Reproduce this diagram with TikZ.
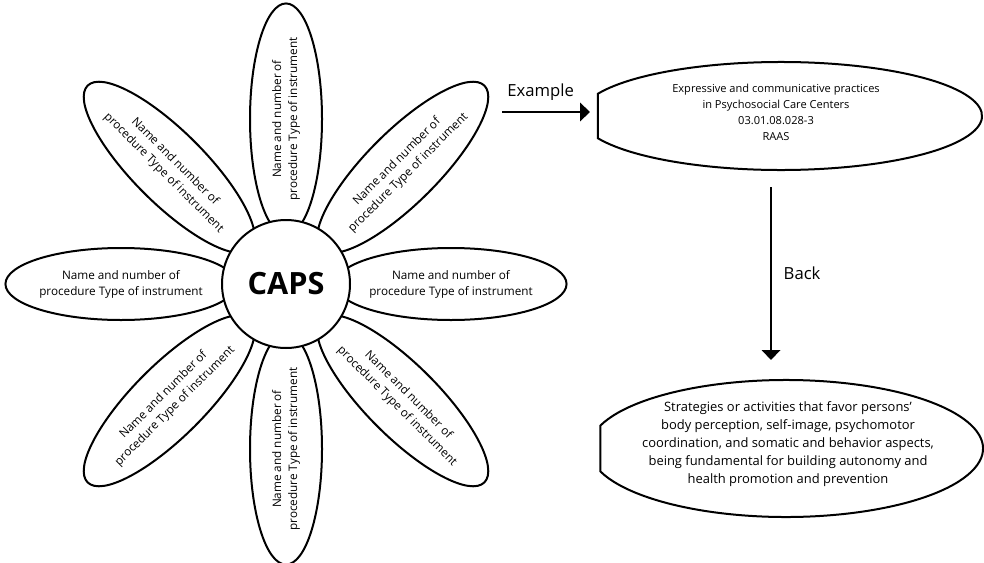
\documentclass[tikz,border=0pt]{standalone}
\usepackage{fontspec}
\setmainfont{Open Sans}
\usetikzlibrary{shapes.geometric,arrows.meta}
\begin{document}
\begin{tikzpicture}[x=0.75pt, y=0.75pt,
    petal/.style={draw, ellipse, line width=1.5pt, minimum width=165pt, minimum height=54pt, inner sep=0pt, align=center, font=\fontsize{8.8}{12}\selectfont},
    hub/.style={draw, circle, fill=white, line width=1.5pt, minimum size=96pt, inner sep=0pt, font=\fontsize{23}{26}\selectfont\bfseries},
    note/.style={align=center, inner sep=0pt, font=\fontsize{8.3}{12}\selectfont},
    bignote/.style={align=center, inner sep=0pt, font=\fontsize{9.7}{13.4}\selectfont},
    tag/.style={inner sep=0pt, font=\fontsize{12.5}{14}\selectfont},
    arrow/.style={-{Triangle[length=7.5pt, width=14pt]}, line width=1.1pt}]
    \useasboundingbox (0,0) rectangle (984,562);
    % flower
    \coordinate (mid) at (286,278);
    \node [petal] (one) at ([shift={(0:165)}]mid) {Name and number of\\procedure Type of instrument};
    \node [petal, rotate=45] (two) at ([shift={(45:165)}]mid) {Name and number of\\procedure Type of instrument};
    \node [petal, rotate=90] (three) at ([shift={(90:165)}]mid) {Name and number of\\procedure Type of instrument};
    \node [petal, rotate=-45] (four) at ([shift={(135:165)}]mid) {Name and number of\\procedure Type of instrument};
    \node [petal] (five) at ([shift={(180:165)}]mid) {Name and number of\\procedure Type of instrument};
    \node [petal, rotate=45] (six) at ([shift={(225:165)}]mid) {Name and number of\\procedure Type of instrument};
    \node [petal, rotate=90] (seven) at ([shift={(270:165)}]mid) {Name and number of\\procedure Type of instrument};
    \node [petal, rotate=-45] (eight) at ([shift={(315:165)}]mid) {Name and number of\\procedure Type of instrument};
    \node [hub] (caps) at (mid) {CAPS};
    % cut ellipses
    \coordinate (pc) at (781,446);
    \coordinate (sc) at (786,113.5);
    \draw [line width=1.5pt] ([shift={(155.6:201 and 54)}]pc) arc [start angle=155.6, end angle=-155.6, x radius=201, y radius=54] -- cycle;
    \draw [line width=1.5pt] ([shift={(160.4:197 and 68.5)}]sc) arc [start angle=160.4, end angle=-160.4, x radius=197, y radius=68.5] -- cycle;
    \node [note] (practice) at (776,450) {Expressive and communicative practices\\in Psychosocial Care Centers\\03.01.08.028-3\\RAAS};
    \node [bignote] (strategy) at (788,118) {Strategies or activities that favor persons'\\body perception, self-image, psychomotor\\coordination, and somatic and behavior aspects,\\being fundamental for building autonomy and\\health promotion and prevention};
    % arrows
    \coordinate (from) at (502,450);
    \coordinate (into) at (590,450);
    \coordinate (down) at (771,375);
    \coordinate (onto) at (771,202);
    \draw [arrow] (from) -- node [tag, pos=0.44, above=8pt] (extext) {Example} (into);
    \draw [arrow] (down) -- node [tag, right=9pt] (backtext) {Back} (onto);
\end{tikzpicture}
\end{document}
